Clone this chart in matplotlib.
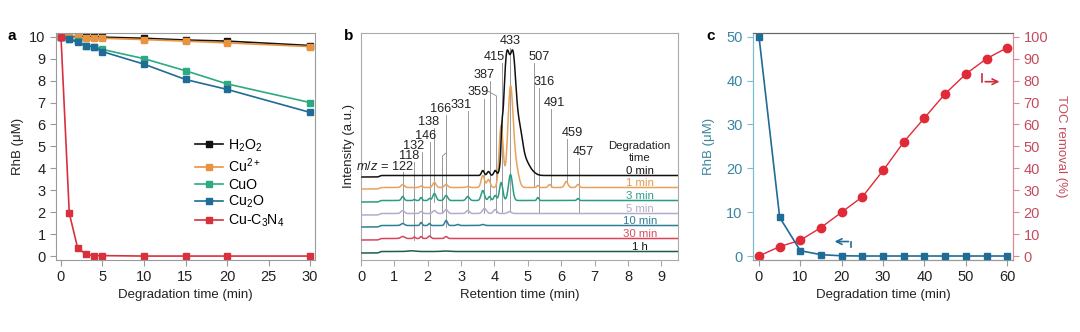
import numpy as np
import matplotlib
matplotlib.use("Agg")
import matplotlib.pyplot as plt

plt.rcParams['font.family'] = ['Liberation Sans', 'DejaVu Sans']
plt.rcParams['mathtext.fontset'] = 'custom'
plt.rcParams['mathtext.rm'] = 'Liberation Sans'
plt.rcParams['mathtext.it'] = 'Liberation Sans:italic'
plt.rcParams['mathtext.bf'] = 'Liberation Sans:bold'

# ---------------- Panel a data ----------------
time_a = [0, 1, 2, 3, 4, 5, 10, 15, 20, 30]
h2o2 = [10, 10, 10, 10, 10, 9.98, 9.93, 9.85, 9.8, 9.6]
cu2p = [10, 9.98, 9.97, 9.96, 9.95, 9.93, 9.87, 9.8, 9.72, 9.55]
cuo = [10, 9.9, 9.8, 9.6, 9.55, 9.42, 9.0, 8.45, 7.85, 7.0]
cu2o = [10, 9.88, 9.75, 9.58, 9.55, 9.32, 8.75, 8.05, 7.6, 6.55]
cuc3n4 = [10, 1.95, 0.38, 0.08, 0.02, 0.02, 0, 0, 0, 0]
labels_a = ['H$_2$O$_2$', 'Cu$^{2+}$', 'CuO', 'Cu$_2$O', 'Cu-C$_3$N$_4$']
colors_a = ['#111111', '#E8933F', '#2DAA83', '#1F6C96', '#D9303D']

# ---------------- Panel b data (peak lists) -------
trace_names = ['0 min', '1 min', '3 min', '5 min', '10 min', '30 min', '1 h']
trace_colors = ['#111111', '#E6A35E', '#2A9D80', '#B5ABCB', '#2F7E98', '#D9455B', '#1E5E48']
label_colors = ['#111111', '#E09A50', '#2A9D8F', '#B3A9C9', '#2E7D9A', '#D64F64', '#111111']
baselines = [83, 71, 58, 45, 33, 20, 7]
peak_pos = [
    [3.65, 3.82, 4.02, 4.22, 4.36, 4.56, 4.76, 4.94, 5.1],
    [1.25, 1.8, 2.2, 2.55, 3.2, 3.65, 3.82, 4.2, 4.48, 4.65, 5.3, 5.65, 6.15, 6.5],
    [1.25, 1.6, 1.8, 2.05, 2.2, 2.55, 3.2, 3.65, 3.85, 4.02, 4.2, 4.48, 5.3, 6.5],
    [1.25, 1.8, 2.2, 2.55, 3.2, 3.7, 4.02, 4.45],
    [1.25, 1.8, 2.05, 2.55, 2.9, 3.65],
    [1.25, 1.6, 1.8, 2.05, 2.55],
    [1.5, 2.5],
]
peak_hgt = [
    [5, 4, 5, 18, 113, 111, 40, 11, 4],
    [3, 1.5, 5, 3, 1, 12, 8, 62, 100, 18, 2, 3, 6, 3],
    [4, 1, 3, 2, 7, 5, 4, 10, 4, 5, 18, 26, 3, 2],
    [3, 2, 3, 4, 3, 5, 4, 2],
    [2, 3, 2, 5, 1, 1],
    [2, 1.5, 2, 2.5, 2],
    [0.7, 0.5],
]
peak_wid = [
    [0.04, 0.04, 0.04, 0.025, 0.09, 0.09, 0.09, 0.1, 0.12],
    [0.05, 0.04, 0.05, 0.05, 0.05, 0.05, 0.05, 0.06, 0.08, 0.08, 0.03, 0.04, 0.05, 0.04],
    [0.04, 0.03, 0.03, 0.03, 0.05, 0.05, 0.05, 0.05, 0.04, 0.04, 0.05, 0.06, 0.03, 0.03],
    [0.05, 0.04, 0.05, 0.05, 0.05, 0.06, 0.05, 0.05],
    [0.05, 0.03, 0.03, 0.04, 0.04, 0.05],
    [0.06, 0.03, 0.03, 0.04, 0.04],
    [0.1, 0.1],
]
step_time = 0.55
step_height = 1.5

# annotations: label, label x, label y, line x, line top, line bottom
mz_labels = ['118', '132', '146', '138', '166', '331', '359', '387', '415', '433',
             '507', '316', '491', '459', '457']
mz_text_x = [1.44, 1.59, 1.92, 2.02, 2.38, 2.99, 3.50, 3.70, 4.00, 4.47,
             5.33, 5.49, 5.81, 6.33, 6.67]
mz_text_y = [104, 114, 124, 138, 151, 155, 168, 185, 203, 219,
             203, 178, 157, 127, 108]
mz_line_x = [1.60, 1.82, 2.06, 2.20, 2.55, 3.20, 3.70, 3.86, 4.23, 4.48,
             5.17, 5.33, 5.68, 6.18, 6.53]
mz_line_top = [98, 108, 118, 132, 145, 149, 161, 179, 197, 212,
               197, 172, 151, 121, 102]
mz_line_bot = [20, 22, 23, 58, 33, 47, 47, 60, 48, 48,
               73, 47, 73, 77, 48]

# ---------------- Panel c data ----------------
time_c = [0, 5, 10, 15, 20, 25, 30, 35, 40, 45, 50, 55, 60]
rhb_c = [50, 8.8, 1.2, 0.3, 0.05, 0, 0, 0, 0, 0, 0, 0, 0]
toc_c = [0, 4.3, 7.2, 13, 20, 27, 39, 52, 63, 74, 83, 90, 95]

W, H = 1080, 332
fig = plt.figure(figsize=(W / 100, H / 100), dpi=100)


def axrect(l, r, t, b):
    return [l / W, (H - b) / H, (r - l) / W, (b - t) / H]


FS = 9.5
TS = 10.5
gray = '#9a9a9a'

# ---------------- Panel a ----------------
axa = fig.add_axes(axrect(56, 315, 33, 260))
for series, lab, col in zip([h2o2, cu2p, cuo, cu2o, cuc3n4], labels_a, colors_a):
    axa.plot(time_a, series, '-s', color=col, ms=5, lw=1.2, label=lab)
axa.set_xlim(-0.6, 30.6)
axa.set_ylim(-0.18, 10.17)
axa.set_xticks([0, 5, 10, 15, 20, 25, 30])
axa.set_yticks(range(0, 11))
axa.set_xlabel('Degradation time (min)', fontsize=FS, color='#222222', labelpad=3)
axa.set_ylabel('RhB (μM)', fontsize=FS, color='#222222', labelpad=4)
for s in axa.spines.values():
    s.set_color(gray)
axa.tick_params(direction='out', length=4, color=gray, labelsize=TS, labelcolor='#222222')
leg = axa.legend(loc='upper left', bbox_to_anchor=(0.515, 0.565), frameon=False,
                 fontsize=10.2, handlelength=2.0, handletextpad=0.35, labelspacing=0.18,
                 borderaxespad=0)
fig.text(8 / W, 1 - 40 / H, 'a', fontsize=11, fontweight='bold')

# ---------------- Panel b ----------------
axb = fig.add_axes(axrect(361, 678, 33, 260))
x = np.linspace(0.03, 9.5, 2000)
for i in range(len(trace_names)):
    y = np.full_like(x, baselines[i], dtype=float)
    y += step_height / (1 + np.exp(-(x - step_time) / 0.02))
    for p, h, w in zip(peak_pos[i], peak_hgt[i], peak_wid[i]):
        y += h * np.exp(-0.5 * ((x - p) / w) ** 2)
    axb.plot(x, y, color=trace_colors[i], lw=1.1, zorder=3 if i > 0 else 4)
    axb.text(8.35, baselines[i] + 6, trace_names[i], color=label_colors[i],
             fontsize=8.2, ha='center', va='center', zorder=5)
axb.text(8.35, 114, 'Degradation', fontsize=8.2, ha='center', va='center', color='#222222')
axb.text(8.35, 102, 'time', fontsize=8.2, ha='center', va='center', color='#222222')

lc = '#8a8a8a'
for lab, tx, ty, lx, lt, lb in zip(mz_labels, mz_text_x, mz_text_y, mz_line_x,
                                   mz_line_top, mz_line_bot):
    axb.text(tx, ty, lab, fontsize=9.2, ha='center', va='center', color='#222222', zorder=6)
    axb.plot([lx, lx], [lb, lt], color=lc, lw=0.6, zorder=2)
# m/z = 122 label with its line
axb.text(1.58, 93, '$m/z$ = 122', fontsize=9.2, ha='right', va='center', color='#222222', zorder=6)
axb.plot([1.27, 1.27], [37, 88], color=lc, lw=0.6, zorder=2)
# branches
axb.plot([2.55, 2.44, 2.44], [107, 104, 47], color=lc, lw=0.6, zorder=2)
axb.plot([3.8, 4.06, 4.06], [169, 164, 47], color=lc, lw=0.6, zorder=2)

axb.set_xlim(0, 9.5)
axb.set_ylim(0, 227)
axb.set_yticks([])
axb.set_xticks(range(0, 10))
axb.set_xlabel('Retention time (min)', fontsize=FS, color='#222222', labelpad=3)
axb.set_ylabel('Intensity (a.u.)', fontsize=FS, color='#222222', labelpad=4)
for s in axb.spines.values():
    s.set_color('#aaaaaa')
axb.tick_params(direction='out', length=4, color='#aaaaaa', labelsize=TS, labelcolor='#222222')
fig.text(344 / W, 1 - 40 / H, 'b', fontsize=11, fontweight='bold')

# ---------------- Panel c ----------------
blue_c = '#1F6C96'
red_c = '#E02A38'
axc = fig.add_axes(axrect(753, 1013, 33, 260))
axc2 = axc.twinx()
axc.plot(time_c, rhb_c, '-s', color=blue_c, ms=5, lw=1.2, zorder=3)
axc2.plot(time_c, toc_c, '-o', color=red_c, ms=6, lw=1.0, zorder=3)
axc.set_zorder(axc2.get_zorder() + 1)
axc.patch.set_visible(False)
axc.set_xlim(-1.45, 61.4)
axc.set_ylim(-0.91, 50.84)
axc2.set_ylim(-1.82, 101.7)
axc.set_xticks(range(0, 61, 10))
axc.set_yticks(range(0, 51, 10))
axc2.set_yticks(range(0, 101, 10))
axc.set_xlabel('Degradation time (min)', fontsize=FS, color='#222222', labelpad=3)
axc.set_ylabel('RhB (μM)', fontsize=FS, color='#3A86A0', labelpad=8)
axc2.set_ylabel('TOC removal (%)', fontsize=FS, color='#C44C5E', rotation=270, labelpad=14)
axc.tick_params(axis='x', direction='out', length=4, color=gray, labelsize=TS, labelcolor='#222222')
axc.tick_params(axis='y', direction='out', length=4, color='#7FBCD0', labelsize=TS, labelcolor='#3A86A0')
axc2.tick_params(axis='y', direction='out', length=4, color='#D98A96', labelsize=TS, labelcolor='#C44C5E')
for a in (axc, axc2):
    a.spines['bottom'].set_color(gray)
    a.spines['top'].set_color('#666666')
    a.spines['left'].set_color('#7FBCD0')
    a.spines['right'].set_color('#D98A96')
# bent arrows
axc.annotate('', xy=(17.6, 3.3), xytext=(22.3, 3.3),
             arrowprops=dict(arrowstyle='->', color=blue_c, lw=1.2, mutation_scale=10))
axc.plot([22.3, 22.3], [3.3, 2.0], color=blue_c, lw=1.2)
axc2.plot([54.0, 54.0], [83, 79.5], color='#C8303F', lw=1.2)
axc2.annotate('', xy=(58.8, 79.5), xytext=(54.0, 79.5),
              arrowprops=dict(arrowstyle='->', color='#C8303F', lw=1.2, mutation_scale=10))
fig.text(706 / W, 1 - 40 / H, 'c', fontsize=11, fontweight='bold')

fig.savefig('out.png', dpi=100, facecolor='white')
